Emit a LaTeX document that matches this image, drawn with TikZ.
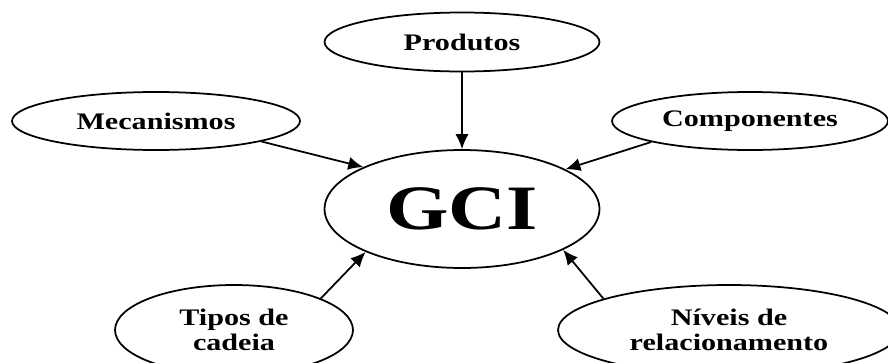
\documentclass[tikz,border=0pt]{standalone}
\usepackage{fontspec}
\setmainfont{Liberation Serif}[FakeStretch=1.27]
\usetikzlibrary{shapes.geometric, arrows.meta}

\begin{document}
\begin{tikzpicture}[x=0.02cm, y=-0.02cm, >={Latex[length=8.5pt,width=7.5pt]},
  elipse/.style={ellipse, draw=black, line width=1pt, inner sep=0pt, align=center,
    font=\bfseries\fontsize{13.5}{14.5}\selectfont},
  seta/.style={->, line width=1pt}]

\clip (0,0) rectangle (888,362);

% O nó central
\node[elipse, minimum width=5.5cm, minimum height=2.36cm,
  font=\bfseries\fontsize{36}{38}\selectfont] (GCI) at (462,209) {GCI};

% Os nós em volta
\node[elipse, minimum width=5.5cm, minimum height=1.18cm] (prod) at (462,42) {Produtos};
\node[elipse, minimum width=5.76cm, minimum height=1.16cm] (mec) at (156,121) {Mecanismos};
\node[elipse, minimum width=5.52cm, minimum height=1.16cm] (comp) at (750,121) {Componentes};
\node[elipse, minimum width=4.76cm, minimum height=1.8cm] (tipos) at (234,330) {Tipos de\\cadeia};
\node[elipse, minimum width=6.84cm, minimum height=1.8cm] (niv) at (729,330) {Níveis de\\relacionamento};

% As setas para o nó central
\draw[seta] (prod.south) -- (GCI.north);
\draw[seta] (mec.-11) -- (GCI.157);
\draw[seta] (comp.-168) -- (GCI.21);
\draw[seta] (tipos.20) -- (GCI.204);
\draw[seta] (niv.166) -- (GCI.-22);

\end{tikzpicture}
\end{document}
